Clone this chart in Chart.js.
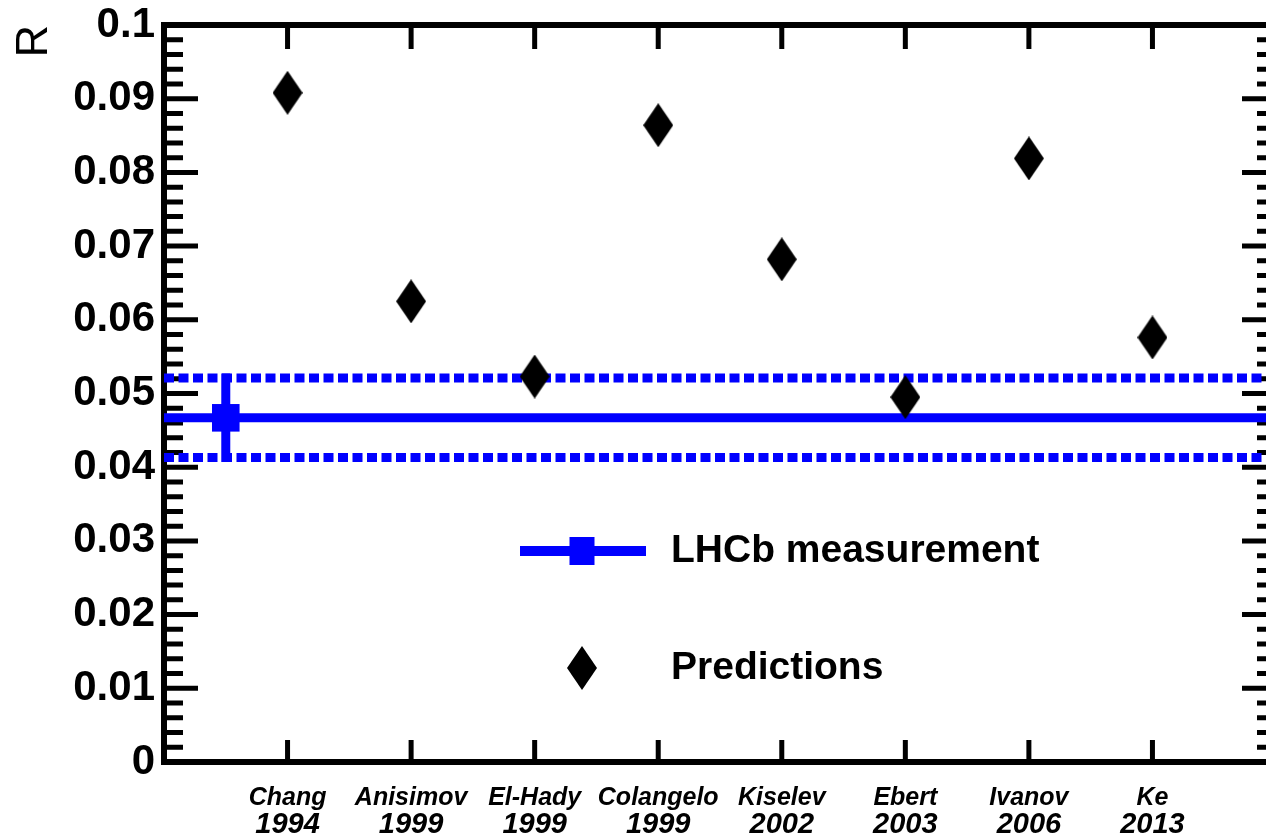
<!DOCTYPE html>
<html><head><meta charset="utf-8">
<script src="https://cdn.jsdelivr.net/npm/chart.js@4/dist/chart.umd.min.js"></script>
<style>html,body{margin:0;padding:0;overflow:hidden;background:#fff}canvas{display:block}</style>
</head><body>
<canvas id="c" width="1300" height="837"></canvas>
<script>
// ---- data ----
const authors = ['Chang','Anisimov','El-Hady','Colangelo','Kiselev','Ebert','Ivanov','Ke'];
const years = ['1994','1999','1999','1999','2002','2003','2006','2013'];
const predictions = [0.0908,0.0625,0.0523,0.0864,0.0682,0.0495,0.0819,0.0576];
const lhcbX = 0.5;
const lhcbValue = 0.0467;
const lhcbLow = 0.0413;
const lhcbHigh = 0.0521;
const yTickValues = [0,0.01,0.02,0.03,0.04,0.05,0.06,0.07,0.08,0.09,0.1];
const yTickLabels = ['0','0.01','0.02','0.03','0.04','0.05','0.06','0.07','0.08','0.09','0.1'];
const xMin = 0, xMax = 9;
const legendLabels = ['LHCb measurement','Predictions'];

const BLUE = '#0000ff';
const FONT = "'Liberation Sans', Arial, sans-serif";

function diamond(w,h,color){
  const c=document.createElement('canvas');c.width=w;c.height=h;
  const g=c.getContext('2d');g.fillStyle=color;g.beginPath();
  g.moveTo(w/2,0);g.lineTo(w,h/2);g.lineTo(w/2,h);g.lineTo(0,h/2);g.closePath();g.fill();
  return c;
}
const dia = diamond(30,44,'#000');

const catTicks = s => { s.ticks = authors.map((_,i)=>({value:i+1})); };

const framePlugin = {
  id:'frame',
  beforeDatasetsDraw(chart){
    const {ctx, chartArea:a, scales} = chart;
    const y = scales.y, x = scales.x;
    ctx.save();
    ctx.strokeStyle='#000';
    ctx.lineCap='butt';
    ctx.lineWidth=5;
    ctx.beginPath();
    for(let k=0;k<=50;k++){
      const v=k*0.002; const py=y.getPixelForValue(v);
      const len = (k%5===0)?34:19;
      ctx.moveTo(a.left,py);ctx.lineTo(a.left+len,py);
      ctx.moveTo(a.right,py);ctx.lineTo(a.right-len,py);
    }
    authors.forEach((_,i)=>{
      const px=x.getPixelForValue(i+1);
      ctx.moveTo(px,a.top);ctx.lineTo(px,a.top+24);
      ctx.moveTo(px,a.bottom);ctx.lineTo(px,a.bottom-22);
    });
    ctx.stroke();
    ctx.lineWidth=6;
    ctx.strokeRect(a.left,a.top,a.right-a.left,a.bottom-a.top);
    ctx.restore();
  },
  afterDraw(chart){
    const {ctx} = chart;
    ctx.save();
    const ly1=551, ly2=668, lx=582, tx=671;
    ctx.strokeStyle=BLUE; ctx.lineWidth=10; ctx.lineCap='butt';
    ctx.beginPath();ctx.moveTo(520,ly1);ctx.lineTo(646,ly1);ctx.stroke();
    ctx.fillStyle=BLUE; ctx.fillRect(lx-12.5,ly1-14,25,28);
    ctx.drawImage(dia,lx-15,ly2-22);
    ctx.fillStyle='#000';
    ctx.font='bold 39px '+FONT;
    ctx.textBaseline='middle';ctx.textAlign='left';
    ctx.fillText(legendLabels[0],tx,ly1);
    ctx.fillText(legendLabels[1],tx,ly2);
    ctx.restore();
  }
};

const lineDs = (data, extra) => Object.assign({
  data, showLine:true, pointRadius:0, borderColor:BLUE, backgroundColor:BLUE,
  borderWidth:9, borderCapStyle:'butt', clip:{left:1,right:0,top:0,bottom:0}
}, extra||{});

new Chart(document.getElementById('c'), {
  type:'scatter',
  data:{ datasets:[
    { label:legendLabels[1], data: predictions.map((v,i)=>({x:i+1,y:v})),
      pointStyle:dia, pointRadius:22, backgroundColor:'#000', borderColor:'#000' },
    { label:legendLabels[0], data:[{x:lhcbX,y:lhcbValue}], pointStyle:'rect', pointRadius:19.5,
      backgroundColor:BLUE, borderColor:BLUE, borderWidth:0 },
    lineDs([{x:lhcbX,y:lhcbLow},{x:lhcbX,y:lhcbHigh}], {borderCapStyle:'square'}),
    lineDs([{x:xMin,y:lhcbValue},{x:xMax,y:lhcbValue}]),
    lineDs([{x:xMin,y:lhcbHigh},{x:xMax,y:lhcbHigh}], {borderDash:[10,4.5]}),
    lineDs([{x:xMin,y:lhcbLow},{x:xMax,y:lhcbLow}], {borderDash:[10,4.5]})
  ]},
  options:{
    responsive:false, devicePixelRatio:1, animation:false, events:[],
    layout:{padding:{top:25,right:24,left:0,bottom:0}},
    plugins:{legend:{display:false}, tooltip:{enabled:false}},
    scales:{
      x:{type:'linear', position:'bottom', weight:0, min:xMin, max:xMax,
        afterBuildTicks:catTicks,
        ticks:{autoSkip:false, maxRotation:0, padding:21, color:'#000',
          font:{family:FONT, size:25, weight:'bold', style:'italic'},
          callback:v=>authors[Math.round(v)-1]},
        grid:{display:false, drawTicks:false}, border:{display:false},
        afterFit:s=>{s.height=49; s.paddingLeft=0; s.paddingRight=0;}},
      x2:{type:'linear', position:'bottom', weight:1, min:xMin, max:xMax,
        afterBuildTicks:catTicks,
        ticks:{autoSkip:false, maxRotation:0, padding:-3, color:'#000',
          font:{family:FONT, size:29, weight:'bold', style:'italic'},
          callback:v=>years[Math.round(v)-1]},
        grid:{display:false, drawTicks:false}, border:{display:false},
        afterFit:s=>{s.height=26; s.paddingLeft=0; s.paddingRight=0;}},
      y:{type:'linear', min:0, max:0.1,
        afterBuildTicks:s=>{ s.ticks = yTickValues.map(v=>({value:v})); },
        ticks:{padding:9, color:'#000', font:{family:FONT, size:42, weight:'bold'},
          callback:(v,i)=>yTickLabels[i]},
        grid:{display:false, drawTicks:false}, border:{display:false},
        title:{display:true, text:'R', align:'end', color:'#000',
          font:{family:FONT, size:45, weight:'normal'}, padding:{top:8}},
        afterFit:s=>{s.width=164; s.paddingTop=0; s.paddingBottom=0;}}
    }
  },
  plugins:[framePlugin]
});
</script>
</body></html>
